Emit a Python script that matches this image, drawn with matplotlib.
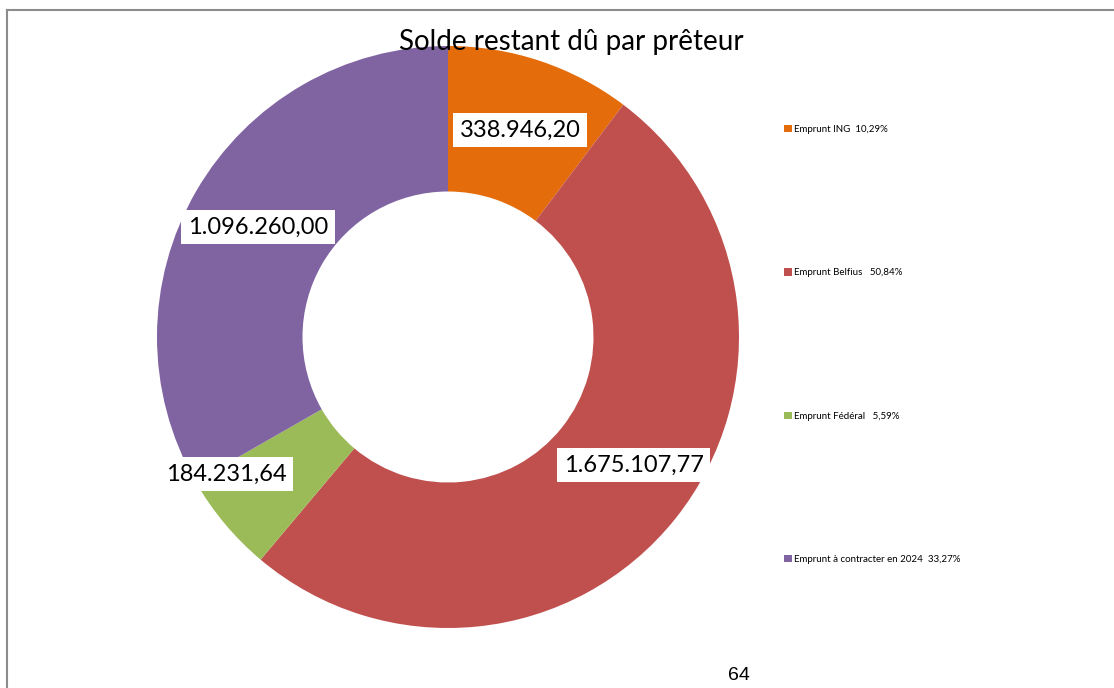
import matplotlib
matplotlib.use("Agg")
import matplotlib.pyplot as plt
from matplotlib.lines import Line2D

categories = ["Emprunt ING", "Emprunt Belfius", "Emprunt Fédéral", "Emprunt à contracter en 2024"]
values = [338946.20, 1675107.77, 184231.64, 1096260.00]
value_labels = ["338.946,20", "1.675.107,77", "184.231,64", "1.096.260,00"]
legend_labels = ["Emprunt ING  10,29%", "Emprunt Belfius   50,84%",
                 "Emprunt Fédéral   5,59%", "Emprunt à contracter en 2024  33,27%"]
colors = ["#E46C0A", "#C0504D", "#9BBB59", "#8064A2"]
# label anchor positions (data coords, radius 1 pie)
label_pos = [(0.247, 0.711), (0.639, -0.440), (-0.763, -0.471), (-0.653, 0.378)]

W, H = 1114, 688
fig = plt.figure(figsize=(W / 100, H / 100), dpi=100)
plt.rcParams['font.family'] = ['Lato', 'DejaVu Sans']

cx, cy, r = 448, 337, 291
ax = fig.add_axes([(cx - r) / W, (H - cy - r) / H, 2 * r / W, 2 * r / H])
wedges, _ = ax.pie(values, colors=colors, startangle=90, counterclock=False,
                   radius=1, wedgeprops=dict(width=0.5, edgecolor='none'))
ax.set_xlim(-1, 1)
ax.set_ylim(-1, 1)
ax.set_aspect('equal')
ax.axis('off')

for (x, y), t in zip(label_pos, value_labels):
    ax.text(x, y, t, ha='center', va='center', fontsize=17, color='black',
            family=['Lato', 'DejaVu Sans'],
            bbox=dict(boxstyle='square,pad=0.28', facecolor='white', edgecolor='none'))

fig.text(571 / W, 1 - 42 / H, "Solde restant dû par prêteur", ha='center', va='center',
         fontsize=20, color='black')

leg = fig.legend(wedges, legend_labels, loc='upper left',
                 bbox_to_anchor=(784 / W, 1 - 125 / H), frameon=False,
                 handlelength=0.8, handleheight=0.8, handletextpad=0.2,
                 labelspacing=13.8, borderpad=0, borderaxespad=0,
                 prop={'family': ['Lato', 'DejaVu Sans'], 'size': 7})

fig.text(739 / W, 1 - 675 / H, "64", ha='center', va='center', fontsize=14, color='black',
         family=['Liberation Sans'])

fig.add_artist(Line2D([7 / W, 1], [1 - 10 / H, 1 - 10 / H], transform=fig.transFigure,
                      color='#8c8c8c', linewidth=1.5))
fig.add_artist(Line2D([7 / W, 7 / W], [0, 1 - 10 / H], transform=fig.transFigure,
                      color='#8c8c8c', linewidth=1.5))

fig.savefig("out.png", dpi=100)
